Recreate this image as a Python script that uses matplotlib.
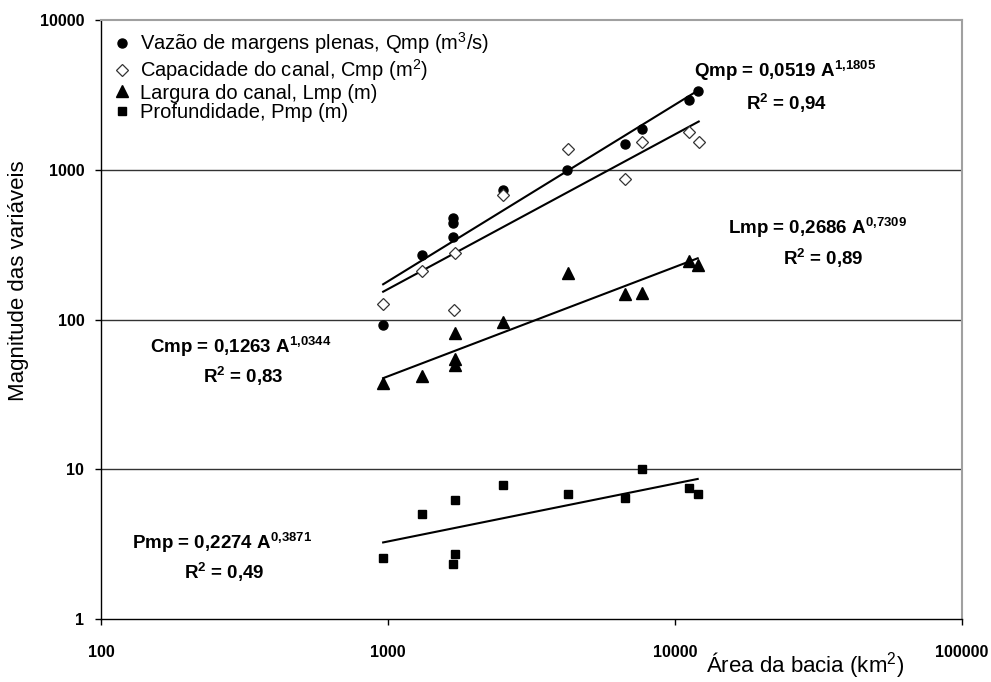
import numpy as np
import matplotlib
import matplotlib.pyplot as plt
from matplotlib.ticker import FixedLocator, NullLocator, FuncFormatter

# ─── Dados ────────────────────────────────────────────────────────────────────

AREA_Q = [962, 1313, 1683, 1683, 1683, 2517, 4200, 6700, 7660, 11200, 12000]
VAL_Q = [92, 271, 480, 444, 358, 738, 1000, 1497, 1875, 2945, 3400]

AREA_C = [962, 1313, 1710, 1700, 2517, 4230, 6700, 7700, 11200, 12100]
VAL_C = [128, 213, 280, 116, 682, 1387, 869, 1535, 1807, 1549]

AREA_L = [962, 1313, 1710, 1710, 1710, 2517, 4230, 6700, 7660, 11200, 12000]
VAL_L = [38, 42, 81, 55, 50, 97, 205, 149, 152, 247, 233]

AREA_P = [962, 1313, 1710, 1710, 1690, 2517, 4230, 6700, 7660, 11200, 12000]
VAL_P = [2.55, 5.05, 6.2, 2.73, 2.33, 7.9, 6.84, 6.46, 10.1, 7.5, 6.84]

# coeficientes das regressões de potência (y = a * A^b)
COEF_A = [0.0519, 0.1263, 0.2686, 0.2274]
COEF_B = [1.1805, 1.0344, 0.7309, 0.3871]
R2 = ["0,94", "0,83", "0,89", "0,49"]

LEGEND_LABELS = [
    r"Vazão de margens plenas, Qmp (m$^{3}$/s)",
    r"Capacidade do canal, Cmp (m$^{2}$)",
    "Largura do canal, Lmp (m)",
    "Profundidade, Pmp (m)",
]
EQ_NAMES = ["Qmp", "Cmp", "Lmp", "Pmp"]

X_TICKS = [100, 1000, 10000, 100000]
Y_TICKS = [1, 10, 100, 1000, 10000]

matplotlib.rcParams.update({
    "font.family": "Liberation Sans",
    "mathtext.default": "regular",
})

# ─── Wykres ───────────────────────────────────────────────────────────────────

fig = plt.figure(figsize=(9.91, 6.82), dpi=100)
ax = fig.add_axes([0.1019, 0.0924, 0.8688, 0.8776])
ax.set_xscale("log")
ax.set_yscale("log")
ax.set_xlim(100, 100000)
ax.set_ylim(1, 10000)

# linhas de grade horizontais
for yv in Y_TICKS[1:-1]:
    ax.axhline(yv, color="#333333", lw=1.0, zorder=1)

series = [
    (AREA_Q, VAL_Q, dict(marker="o", ms=6.5, mfc="black", mec="black")),
    (AREA_C, VAL_C, dict(marker="D", ms=6, mfc="white", mec="#333333", mew=0.9)),
    (AREA_L, VAL_L, dict(marker="^", ms=8, mfc="black", mec="black")),
    (AREA_P, VAL_P, dict(marker="s", ms=5.5, mfc="black", mec="black")),
]

handles = []
for (xs, ys, style), a, b in zip(series, COEF_A, COEF_B):
    h, = ax.plot(xs, ys, linestyle="none", zorder=3, **style)
    handles.append(h)
    xx = np.geomspace(min(xs), max(xs), 60)
    ax.plot(xx, a * xx ** b, color="black", lw=1.5, zorder=2)

ax.legend(handles, LEGEND_LABELS, loc="upper left", frameon=False,
          fontsize=14.5, handletextpad=0.35, labelspacing=0.03,
          borderaxespad=0.2, handlelength=1.1, borderpad=0.3,
          bbox_to_anchor=(0.0, 1.0))

# equações
eq_pos = [(0.689, 0.916), (0.057, 0.454), (0.728, 0.653), (0.036, 0.127)]
r2_pos = [(0.796, 0.862), (0.165, 0.406), (0.839, 0.602), (0.143, 0.077)]
for name, a, b, r2, (ex, ey), (rx, ry) in zip(EQ_NAMES, COEF_A, COEF_B, R2,
                                              eq_pos, r2_pos):
    a_txt = f"{a:.4f}".replace(".", ",")
    b_txt = f"{b:.4f}".replace(".", "{,}")
    ax.text(ex, ey, f"{name} = {a_txt} A$^{{{b_txt}}}$", transform=ax.transAxes,
            ha="left", va="center", fontsize=13.5, fontweight="bold", zorder=4)
    ax.text(rx, ry, f"R$^{{2}}$ = {r2}", transform=ax.transAxes,
            ha="center", va="center", fontsize=13.5, fontweight="bold", zorder=4)

# eixos
ax.xaxis.set_major_locator(FixedLocator(X_TICKS))
ax.yaxis.set_major_locator(FixedLocator(Y_TICKS))
ax.xaxis.set_minor_locator(NullLocator())
ax.yaxis.set_minor_locator(NullLocator())
fmt = FuncFormatter(lambda v, _: f"{v:.0f}")
ax.xaxis.set_major_formatter(fmt)
ax.yaxis.set_major_formatter(fmt)
ax.tick_params(axis="both", direction="out", length=4, width=1.0,
               labelsize=11.5, color="black")
ax.tick_params(axis="x", pad=15)
ax.tick_params(axis="y", pad=8)
for lab in ax.get_xticklabels() + ax.get_yticklabels():
    lab.set_fontweight("bold")

for side in ("left", "bottom"):
    ax.spines[side].set_color("black")
    ax.spines[side].set_linewidth(1.0)
for side in ("top", "right"):
    ax.spines[side].set_color("#a0a0a0")
    ax.spines[side].set_linewidth(1.5)

ax.set_ylabel("Magnitude das variáveis", fontsize=16, va="center")
ax.yaxis.set_label_coords(-0.096, 0.565)
ax.set_xlabel(r"Área da bacia (km$^{2}$)", fontsize=16, va="center")
ax.xaxis.set_label_coords(0.818, -0.077)

fig.savefig("out.png", dpi=100)
